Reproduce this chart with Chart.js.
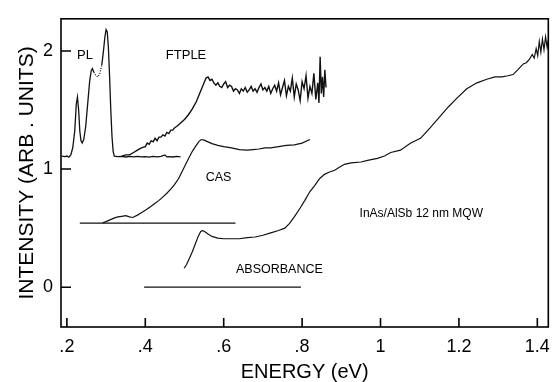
<!DOCTYPE html>
<html>
<head>
<meta charset="utf-8">
<script src="https://cdn.jsdelivr.net/npm/chart.js@4/dist/chart.umd.min.js"></script>
<style>
  body { margin: 0; background: #fff; }
  #wrap { width: 559px; height: 382px; }
</style>
</head>
<body>
<div id="wrap"><canvas id="chart" width="559" height="382"></canvas></div>
<script>
// tick values
const xTicks = [0.2, 0.4, 0.6, 0.8, 1.0, 1.2, 1.4];
const yTicks = [0, 1, 2];

// PL spectrum
const plX = [0.187, 0.195, 0.200, 0.205, 0.210, 0.215, 0.220, 0.224, 0.227, 0.230, 0.233, 0.236, 0.239, 0.243,
  0.248, 0.253, 0.258, 0.262, 0.265, 0.269, 0.274, 0.279, 0.284, 0.289, 0.293, 0.297, 0.300, 0.303, 0.306,
  0.309, 0.312, 0.315, 0.318, 0.321, 0.330, 0.340, 0.350, 0.360, 0.370, 0.380, 0.390, 0.400, 0.410, 0.420,
  0.430, 0.440, 0.450, 0.455, 0.460, 0.470, 0.480, 0.490];
const plY = [1.11, 1.105, 1.11, 1.10, 1.12, 1.18, 1.32, 1.55, 1.61, 1.50, 1.32, 1.24, 1.22, 1.25,
  1.36, 1.55, 1.74, 1.83, 1.85, 1.82, 1.79, 1.78, 1.81, 1.88, 1.99, 2.12, 2.18, 2.16, 2.02,
  1.78, 1.50, 1.28, 1.15, 1.11, 1.105, 1.108, 1.102, 1.107, 1.103, 1.108, 1.104, 1.106, 1.101, 1.107,
  1.104, 1.108, 1.12, 1.103, 1.106, 1.102, 1.107, 1.104];

// FTPLE spectrum
const ftX = [0.340, 0.350, 0.360, 0.370, 0.380, 0.390, 0.400, 0.405, 0.410, 0.415, 0.420, 0.425, 0.430, 0.435,
  0.440, 0.445, 0.450, 0.455, 0.460, 0.465, 0.470, 0.475, 0.480, 0.490, 0.500, 0.510, 0.520, 0.530, 0.540,
  0.550, 0.555, 0.560, 0.565, 0.570, 0.575, 0.580, 0.585, 0.590, 0.595, 0.600, 0.605, 0.610, 0.615, 0.620,
  0.625, 0.630, 0.635, 0.640, 0.645, 0.650, 0.655, 0.660, 0.665, 0.670, 0.675, 0.680, 0.685, 0.690, 0.695,
  0.700, 0.705, 0.710, 0.715, 0.720, 0.725, 0.730, 0.735, 0.740, 0.745, 0.750, 0.755, 0.760, 0.765, 0.770,
  0.775, 0.780, 0.785, 0.790, 0.795, 0.800, 0.805, 0.810, 0.815, 0.820, 0.825, 0.830, 0.835, 0.840, 0.843,
  0.846, 0.849, 0.852, 0.855, 0.858, 0.861];
const ftY = [1.11, 1.12, 1.12, 1.14, 1.16, 1.18, 1.19, 1.22, 1.21, 1.24, 1.23, 1.26, 1.24, 1.27,
  1.27, 1.29, 1.28, 1.31, 1.30, 1.33, 1.33, 1.35, 1.36, 1.39, 1.42, 1.46, 1.51, 1.57, 1.65,
  1.73, 1.77, 1.78, 1.75, 1.76, 1.73, 1.71, 1.73, 1.70, 1.69, 1.72, 1.74, 1.69, 1.71, 1.70,
  1.66, 1.68, 1.67, 1.64, 1.68, 1.66, 1.69, 1.65, 1.67, 1.70, 1.66, 1.68, 1.65, 1.69, 1.72,
  1.67, 1.69, 1.66, 1.70, 1.64, 1.68, 1.71, 1.66, 1.73, 1.63, 1.69, 1.75, 1.62, 1.70, 1.66,
  1.77, 1.61, 1.72, 1.67, 1.58, 1.74, 1.68, 1.79, 1.60, 1.70, 1.64, 1.81, 1.59, 1.73, 1.56,
  1.95, 1.64, 1.78, 1.61, 1.84, 1.69];

// CAS spectrum and its baseline
const casX = [0.291, 0.300, 0.310, 0.320, 0.330, 0.340, 0.350, 0.360, 0.368, 0.380, 0.390, 0.402, 0.415, 0.425,
  0.435, 0.445, 0.455, 0.465, 0.475, 0.485, 0.494, 0.503, 0.512, 0.520, 0.530, 0.537, 0.543, 0.550, 0.560,
  0.570, 0.585, 0.600, 0.620, 0.640, 0.660, 0.675, 0.690, 0.705, 0.720, 0.740, 0.760, 0.780, 0.800, 0.820];
const casY = [0.545, 0.555, 0.57, 0.585, 0.595, 0.60, 0.605, 0.595, 0.59, 0.61, 0.63, 0.655, 0.685, 0.71,
  0.735, 0.765, 0.795, 0.83, 0.87, 0.92, 0.98, 1.04, 1.10, 1.15, 1.20, 1.235, 1.25, 1.245, 1.23,
  1.215, 1.20, 1.19, 1.18, 1.165, 1.16, 1.165, 1.17, 1.18, 1.18, 1.19, 1.20, 1.205, 1.22, 1.25];
const casBaseX = [0.233, 0.630];
const casBaseY = [0.543, 0.543];

// absorbance spectrum and its baseline
const absX = [0.499, 0.505, 0.512, 0.520, 0.528, 0.535, 0.541, 0.546, 0.552, 0.560, 0.570, 0.585, 0.600, 0.620,
  0.640, 0.660, 0.680, 0.700, 0.720, 0.740, 0.756, 0.768, 0.781, 0.795, 0.807, 0.820, 0.832, 0.845, 0.857,
  0.870, 0.883, 0.895, 0.908, 0.925, 0.950, 0.970, 0.992, 1.010, 1.026, 1.051, 1.077, 1.102, 1.127, 1.153,
  1.174, 1.195, 1.220, 1.246, 1.271, 1.292, 1.310, 1.325, 1.338, 1.350, 1.364, 1.372, 1.380, 1.387, 1.392,
  1.397, 1.401, 1.405, 1.409, 1.413, 1.417, 1.421, 1.425, 1.428];
const absY = [0.16, 0.19, 0.24, 0.30, 0.37, 0.43, 0.47, 0.48, 0.47, 0.45, 0.43, 0.415, 0.41, 0.41,
  0.41, 0.42, 0.425, 0.44, 0.46, 0.48, 0.50, 0.54, 0.60, 0.67, 0.735, 0.81, 0.86, 0.92, 0.955,
  0.975, 0.99, 1.015, 1.04, 1.052, 1.06, 1.075, 1.09, 1.11, 1.14, 1.16, 1.22, 1.26, 1.35, 1.45,
  1.53, 1.60, 1.68, 1.73, 1.76, 1.78, 1.78, 1.79, 1.80, 1.84, 1.89, 1.90, 1.93, 1.97, 1.94,
  2.02, 1.96, 2.08, 1.99, 2.10, 2.01, 2.12, 2.03, 2.09];
const absBaseX = [0.397, 0.797];
const absBaseY = [0, 0];

// text annotations (data coordinates)
const notes = [
  { text: 'PL', x: 0.246, y: 1.96, size: 13 },
  { text: 'FTPLE', x: 0.504, y: 1.96, size: 13 },
  { text: 'CAS', x: 0.587, y: 0.93, size: 12.5 },
  { text: 'InAs/AlSb 12 nm MQW', x: 1.104, y: 0.625, size: 12 },
  { text: 'ABSORBANCE', x: 0.742, y: 0.148, size: 12.5 }
];

const FONT = "'Liberation Sans', Arial, Helvetica, sans-serif";
Chart.defaults.font.family = FONT;
Chart.defaults.color = '#000';

function pts(xs, ys) {
  return xs.map((x, i) => ({ x: x, y: ys[i] }));
}

function series(xs, ys, w, extra) {
  return Object.assign({
    data: pts(xs, ys),
    borderColor: '#111',
    borderWidth: w,
    pointRadius: 0,
    tension: 0,
    fill: false
  }, extra || {});
}

const decor = {
  id: 'decor',
  afterDatasetsDraw(chart) {
    const { ctx, chartArea: a, scales: { x, y } } = chart;
    ctx.save();
    ctx.strokeStyle = '#000';
    ctx.lineWidth = 1.6;
    ctx.strokeRect(a.left, a.top, a.right - a.left, a.bottom - a.top);
    ctx.beginPath();
    xTicks.forEach(v => {
      const px = x.getPixelForValue(v);
      ctx.moveTo(px, a.bottom);
      ctx.lineTo(px, a.bottom - 9);
    });
    yTicks.forEach(v => {
      const py = y.getPixelForValue(v);
      ctx.moveTo(a.left, py);
      ctx.lineTo(a.left + 10, py);
    });
    ctx.stroke();
    ctx.fillStyle = '#000';
    ctx.textAlign = 'center';
    ctx.textBaseline = 'middle';
    notes.forEach(n => {
      ctx.font = n.size + 'px ' + FONT;
      ctx.fillText(n.text, x.getPixelForValue(n.x), y.getPixelForValue(n.y));
    });
    ctx.restore();
  }
};

new Chart(document.getElementById('chart'), {
  type: 'line',
  data: {
    datasets: [
      series(plX, plY, 1.3, {
        segment: {
          borderDash: c => (c.p0.parsed.x >= 0.268 && c.p1.parsed.x <= 0.290 ? [1, 1.5] : undefined)
        }
      }),
      series(ftX, ftY, 1.4),
      series(casX, casY, 1.2),
      series(casBaseX, casBaseY, 1.3),
      series(absX, absY, 1.2),
      series(absBaseX, absBaseY, 1.3)
    ]
  },
  options: {
    responsive: false,
    animation: false,
    layout: { padding: { left: 0, top: 10, right: 7, bottom: 0 } },
    plugins: { legend: { display: false }, tooltip: { enabled: false } },
    scales: {
      x: {
        type: 'linear',
        min: 0.185,
        max: 1.428,
        afterFit: s => { s.height = 55; },
        afterBuildTicks: s => { s.ticks = xTicks.map(v => ({ value: v })); },
        grid: { display: false, drawTicks: false },
        border: { display: false },
        ticks: {
          padding: 9,
          maxRotation: 0,
          font: { size: 18 },
          callback: v => String(v).replace(/^0\./, '.')
        },
        title: {
          display: true,
          text: 'ENERGY (eV)',
          font: { size: 20, lineHeight: 1 },
          padding: { top: 0, bottom: 0 }
        }
      },
      y: {
        min: -0.337,
        max: 2.272,
        afterFit: s => { s.width = 61; },
        afterBuildTicks: s => { s.ticks = yTicks.map(v => ({ value: v })); },
        grid: { display: false, drawTicks: false },
        border: { display: false },
        ticks: { padding: 8, font: { size: 18 } },
        title: {
          display: true,
          text: 'INTENSITY (ARB . UNITS)',
          font: { size: 21, lineHeight: 1 },
          padding: { top: 17, bottom: 0 }
        }
      }
    }
  },
  plugins: [decor]
});
</script>
</body>
</html>
